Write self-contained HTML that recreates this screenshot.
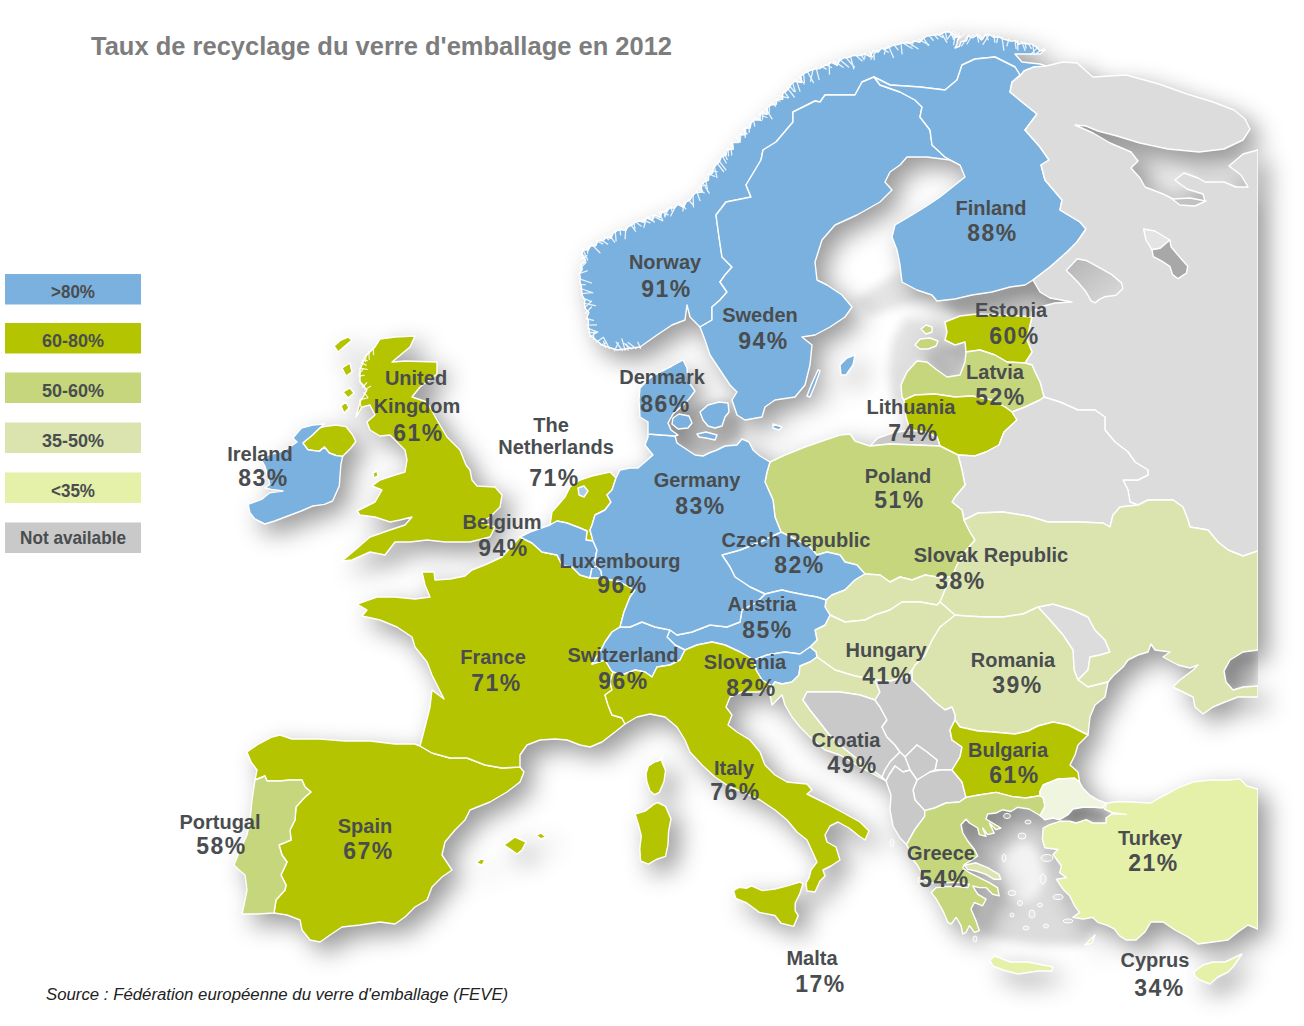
<!DOCTYPE html>
<html><head><meta charset="utf-8"><title>Taux de recyclage du verre d'emballage en 2012</title>
<style>
html,body{margin:0;padding:0;background:#fff}
body{width:1304px;height:1026px;overflow:hidden;position:relative;font-family:"Liberation Sans",sans-serif}
svg{position:absolute;left:0;top:0}
.t{font-family:"Liberation Sans",sans-serif;font-weight:bold;fill:#4a4d4f;text-anchor:middle}
.n{font-size:20px}
.p{font-size:23px;letter-spacing:1.5px}
.lg{font-size:18.5px}
.c path{stroke:#fff;stroke-width:1.4;stroke-linejoin:round}
</style></head><body>
<svg width="1304" height="1026" viewBox="0 0 1304 1026">
<defs>
<filter id="sh" x="-5%" y="-5%" width="112%" height="112%" color-interpolation-filters="sRGB">
<feGaussianBlur in="SourceAlpha" stdDeviation="12" result="a0"/>
<feOffset in="a0" dx="10" dy="10" result="a1"/>
<feFlood flood-color="#000" flood-opacity=".4" result="fa"/>
<feComposite in="fa" in2="a1" operator="in" result="sa"/>
<feMerge><feMergeNode in="sa"/><feMergeNode in="SourceGraphic"/></feMerge>
</filter>
<filter id="bl" x="-10%" y="-10%" width="120%" height="120%"><feGaussianBlur stdDeviation="5"/></filter>
<linearGradient id="lk" x1="0" y1="0" x2="1" y2="1"><stop offset="0" stop-color="#b4b4b4"/><stop offset="1" stop-color="#dcdcdc"/></linearGradient>
<clipPath id="cl"><rect x="0" y="0" width="1258" height="1026"/></clipPath>
</defs>
<rect width="1304" height="1026" fill="#fff"/>
<g filter="url(#bl)" clip-path="url(#cl)">
<path d="M937,345 960,345 966,352 965,365 960,376 947,378 935,370 925,362 920,352Z" fill="rgb(214,214,214)"/>
<path d="M940,302 990,293 1033,281 1072,302 1033,316 960,316Z" fill="rgb(214,214,214)"/>
<path d="M905,318 945,322 945,345 917,361 901,385 904,402 893,402 888,370 893,340Z" fill="rgb(226,226,226)"/>
<path d="M855,300 898,272 935,296 900,306 870,316Z" fill="rgb(228,228,228)"/>
<path d="M690,410 700,405 730,400 740,420 742,438 725,447 705,455 686,449 676,440 670,425 676,412Z" fill="rgb(212,212,212)"/>
<path d="M962,820 1000,806 1045,815 1048,835 1058,860 1070,890 1078,915 1095,925 1085,945 1040,945 1000,940 978,932 992,900 996,880 975,857 965,838Z" fill="rgb(220,220,220)"/>
<path d="M1059.7,819.7 1068,814.7 1073,809 1083,807.3 1094.5,807.3 1104.4,809 1111.9,813.9 1106,818 1106,823 1092.8,823 1086.2,819.7 1076.3,823 1069.7,821.3Z" fill="rgb(195,195,195)"/>
<path d="M1224,671 1230,660 1243,652 1258,650 1258,686 1243,687 1233,690 1226,682Z" fill="rgb(205,205,205)"/>
<path d="M1075,125 1117,136 1168,149 1224,149 1243,154 1229,166 1241,175 1248,187 1224,182 1198,178 1184,173 1175,180 1203,194 1205,201 1177,201 1145,187 1131,168 1138,161 1131,152 1093,133Z" fill="rgb(236,236,236)"/>
<ellipse cx="1022" cy="872" rx="22" ry="30" fill="#f4f4f4"/>
</g>
<g filter="url(#sh)"><g class="c" clip-path="url(#cl)">
<path d="M700,327 690,317 687,305 685,320 672,325 657,335 640,347 617,350 602,345 590,335 589.3,330.5 588.1,326.1 588.6,321.4 587,317 588.9,312.5 585.5,308.6 584.4,304.4 585,300 582.4,295.9 581.7,291.2 581.4,286.5 580,282 580.3,277.8 579.5,273.4 582.3,269.3 581,265 585.6,260.5 582,255 583,250 588.1,250.1 590.7,245.8 595.8,245.8 597.9,240.6 603.1,240.8 606,237 611.1,238.3 613.2,233.1 616.7,230.9 620.6,229.5 625.6,230.6 628.2,226.6 632,225 635.2,222.2 639.2,221 643.9,221.6 646.7,217.9 652.4,220.7 654.3,214.7 660,217.7 662,212 666.4,211.3 669.7,207.9 674.5,208.1 677.6,204.3 683.7,207.3 686.1,201.9 690,200 692.3,196 695.6,192.8 702.2,192.1 701,185.4 704,182 708.5,180.1 708.7,175.1 712.7,172.8 713.4,168.3 716,165 719.4,161.7 721.1,157.2 726.1,155.1 727,150 733.4,149 732.5,142.1 739.5,141.6 739,135 744.9,134.9 744.3,128.3 750,128 751.1,123.1 754,120 760.1,120.1 760.2,113.3 767.1,114.3 767.3,107.7 771,105 776.2,104.4 777,99.4 782.7,99.3 782.7,93.3 786.2,91.1 789,88 791.2,84.2 794.4,81.4 801.5,82.5 801,76 805.3,72.8 810,70.7 815,69 819.6,68.6 823.4,66.1 827.6,64.9 831.4,62.3 837.2,65.4 840,60 843.9,57.8 848.2,57.5 852.2,55.8 856.5,55.4 861,55.6 865,54 870.3,56.9 873.1,50.7 878,52.2 881.4,48.4 886,48.7 890,47 893.9,45 898.2,44.5 902.2,42.7 906.7,43 911.1,43.1 915,41 919.7,42.2 923,38.7 926.6,36.2 930.8,35.4 935,35 940.1,34.5 944.8,32.1 950,32 953.4,38 960,36 957.5,39.6 956.9,44.1 955,48 959.5,46.4 961.1,41.6 966.4,40.7 968,36 972.5,37.9 976.8,35.1 981.4,40 985.6,34.8 990,35 993.9,37.5 998.7,36.9 1002.7,38.8 1007,40 1010.9,41.2 1015.2,40.6 1018.6,44.3 1023.1,42.8 1027,44 1032,44.1 1036.1,46.8 1039.8,50.7 1045,50 1040,54 1015,54 1022,62 1040,64 1046,66 1034,67 1024,71 1020,76 1012,82 1020,75 1015,67 995,57 975,59 962,65 957,80 945,90 920,87 890,85 874,77 862,82 855,95 825,95 820,102 815,101 793,112 793,122 776,142 763,150 761,160 746,185 751,197 726,202 716,215 719,237 722,257 732,267 725,275 720,282 727,292 720,300 712,307 712,320 700,327Z" fill="#7bb1de"/>
<path d="M874,77 862,82 855,95 825,95 820,102 815,101 793,112 793,122 776,142 763,150 761,160 746,185 751,197 726,202 716,215 719,237 722,257 732,267 725,275 720,282 727,292 720,300 712,307 712,320 700,327 705,340 710,355 720,370 730,385 737,392 732,400 737,415 745,420 762,417 765,407 775,400 795,397 805,385 810,365 812,345 802,337 815,335 830,327 845,317 852,307 842,295 827,285 817,280 815,262 822,240 835,225 857,215 880,202 892,190 885,182 890,172 900,165 907,157 927,157 950,160 960,165 945,157 932,145 930,130 920,117 922,107 915,100 900,92 880,85 874,77Z" fill="#7bb1de"/>
<path d="M841,375 840,365 847,358 855,355 853,365 846,375Z" fill="#7bb1de"/>
<path d="M807,396 812,383 818,370 820,371 815,385 810,397Z" fill="#7bb1de"/>
<path d="M874,77 880,85 900,92 915,100 922,107 920,117 930,130 932,145 945,157 960,165 965,177 955,185 940,197 925,207 912,215 895,225 892,237 897,250 900,265 902,282 917,290 932,295 937,301 955,299 972,295 992,292 1010,287 1025,285 1033,280 1050,267 1067,252 1077,242 1086,229 1080,222 1060,210 1062,200 1045,180 1041,165 1049,160 1040,147 1025,130 1037,114 1022,102 1010,92 1012,82 1020,75 1015,67 995,57 975,59 962,65 957,80 945,90 920,87 890,85 874,77Z" fill="#7bb1de"/>
<path d="M1046,66 1063,62 1077,63 1085,70 1093,77 1126,75 1159,84 1187,94 1213,102 1234,110 1245,119 1250,129 1243,140 1224,149 1199,152 1168,149 1140,143 1117,136 1098,131 1086,126 1075,125 1093,133 1110,143 1131,152 1138,161 1131,168 1140,178 1145,187 1163,194 1177,201 1194,205 1205,201 1203,194 1187,189 1175,180 1184,173 1198,178 1205,182 1224,182 1236,187 1248,187 1241,175 1229,166 1243,154 1258,150 1258,551 1243,556 1228,550 1218,542 1208,530 1190,527 1188,520 1183,507 1173,500 1148,500 1138,505 1130,502 1128,490 1123,480 1138,480 1148,475 1148,470 1135,462 1128,452 1115,442 1105,430 1105,417 1095,410 1078,410 1060,402 1044,397 1040,382 1035,372 1032,365 1025,363 1032,352 1027,340 1030,325 1032,317 1032,312 1040,307 1055,303 1072,302 1050,298 1040,292 1033,280 1050,267 1067,252 1077,242 1086,229 1080,222 1060,210 1062,200 1045,180 1041,165 1049,160 1040,147 1025,130 1037,114 1022,102 1010,92 1012,82 1020,76 1024,71 1034,67 1046,66Z" fill="#dcdcdc"/>
<path d="M1032,317 1020,316 1000,315 977,314 960,316 945,322 947,332 945,340 955,345 965,342 966,352 980,350 995,355 1007,362 1025,363 1032,352 1027,340 1030,325 1032,317Z" fill="#b5c400"/>
<path d="M915,345 920,339 930,338 938,341 936,346 928,349 920,349Z" fill="#c6d67c"/>
<path d="M921,329 926,325 932,327 932,332 926,334Z" fill="#c6d67c"/>
<path d="M966,352 980,350 995,355 1007,362 1025,363 1032,365 1035,372 1040,382 1044,397 1040,400 1025,407 1012,412 1005,407 992,400 972,396 955,397 935,394 915,395 904,400 902,397 901,385 907,372 917,361 927,362 937,370 947,377 960,375 965,362Z" fill="#c6d67c"/>
<path d="M904,400 915,395 935,394 955,397 972,396 992,400 1005,407 1012,412 1017,420 1004,432 999,445 986,452 975,456 958,455 948,450 940,446 937,437 925,432 910,430 906,417Z" fill="#b5c400"/>
<path d="M870,446 878,438 892,433 910,430 925,432 937,437 940,446 915,445 890,444 870,446Z" fill="#c9c9c9"/>
<path d="M1012,412 1025,407 1040,400 1044,397 1060,402 1078,410 1095,410 1105,417 1105,430 1115,442 1128,452 1135,462 1148,470 1148,475 1138,480 1123,480 1128,490 1130,502 1138,505 1120,507 1113,515 1110,527 1103,523 1078,522 1048,522 1028,516 1003,512 978,513 964,520 962,510 952,502 955,497 965,485 962,470 958,455 975,456 986,452 999,445 1004,432 1017,420 1012,412Z" fill="#dcdcdc"/>
<path d="M770,462 785,455 805,447 825,440 840,435 850,434 855,441 870,446 890,444 915,445 940,446 948,450 958,455 962,470 965,485 955,497 952,502 962,510 964,520 970,532 975,540 965,552 957,565 952,577 937,577 925,575 912,580 900,577 890,582 880,575 865,574 857,565 845,562 840,555 827,552 817,555 810,547 797,540 781,532 775,517 773,500 765,482 767,472 770,462Z" fill="#c6d67c"/>
<path d="M781,532 760,542 740,550 722,555 730,567 735,577 750,587 765,594 782,590 790,592 805,595 817,597 826,600 832,595 845,590 855,580 865,574 857,565 845,562 840,555 827,552 817,555 810,547 797,540 781,532Z" fill="#7bb1de"/>
<path d="M826,600 832,595 845,590 855,580 865,574 880,575 890,582 900,577 912,580 925,575 937,577 952,577 945,590 940,602 937,605 920,602 902,602 890,610 875,615 865,620 845,622 830,615 825,607 826,600Z" fill="#dbe4ae"/>
<path d="M1038,607 1053,604 1073,610 1088,617 1095,630 1105,640 1110,652 1100,655 1090,657 1088,670 1078,680 1074,670 1073,650 1063,635 1050,620 1038,607Z" fill="#dcdcdc"/>
<path d="M964,520 978,513 1003,512 1028,516 1048,522 1078,522 1103,523 1110,527 1113,515 1120,507 1138,505 1148,500 1173,500 1183,507 1188,520 1190,527 1208,530 1218,542 1228,550 1243,556 1258,551 1258,650 1243,652 1230,660 1224,671 1226,682 1233,690 1243,687 1258,686 1258,697 1238,697 1225,702 1213,707 1203,714 1195,707 1193,697 1183,692 1173,687 1180,680 1193,670 1198,665 1190,668 1178,665 1163,657 1170,652 1155,650 1151,644 1148,652 1138,655 1128,660 1123,667 1113,676 1108,682 1088,687 1078,680 1088,670 1090,657 1100,655 1110,652 1105,640 1095,630 1088,617 1073,610 1053,604 1038,607 1023,614 1003,617 985,617 965,616 955,615 940,602 945,590 952,577 957,565 965,552 975,540 970,532 964,520Z" fill="#dbe4ae"/>
<path d="M955,615 965,616 985,617 1003,617 1023,614 1038,607 1050,620 1063,635 1073,650 1074,670 1078,680 1088,687 1108,682 1105,697 1095,705 1090,717 1088,735 1078,730 1068,725 1053,722 1038,726 1028,731 1015,734 993,732 978,731 960,727 955,720 955,715 952,707 945,710 935,702 925,692 912,680 912,670 915,665 925,655 932,640 940,627 955,615Z" fill="#dbe4ae"/>
<path d="M830,615 845,622 865,620 875,615 890,610 902,602 920,602 937,605 940,602 955,615 940,627 932,640 925,655 915,665 912,670 907,677 890,681 875,680 855,676 835,670 817,657 816,652 810,647 817,640 815,630 825,625 830,615Z" fill="#dbe4ae"/>
<path d="M670,630 677,635 692,632 710,625 727,627 740,622 742,610 757,602 765,594 782,590 790,592 805,595 817,597 826,600 825,607 830,615 825,625 815,630 817,640 810,647 800,654 785,652 767,655 754,660 740,652 725,645 712,642 697,645 685,650 675,645 667,637 670,630Z" fill="#7bb1de"/>
<path d="M754,660 767,655 785,652 800,654 810,647 816,652 817,657 810,662 800,666 799,675 792,682 782,684 775,682 772,686 762,680 756,670 754,660Z" fill="#7bb1de"/>
<path d="M817,657 835,670 855,676 875,680 880,692 875,700 860,695 840,692 820,692 807,692 803,700 810,710 818,720 828,733 840,745 855,757 870,768 882,777 886,781 875,775 860,767 840,755 825,750 810,737 800,727 792,717 785,705 782,695 777,700 772,705 770,695 772,686 775,682 782,684 792,682 799,675 800,666 810,662 817,657Z" fill="#dbe4ae"/>
<path d="M882,777 870,768 855,757 840,745 828,733 818,720 810,710 803,700 807,692 820,692 840,692 860,695 875,700 880,707 887,720 882,727 887,737 895,745 900,752 890,762 885,770 882,777Z" fill="#c9c9c9"/>
<path d="M875,680 890,681 907,677 912,670 912,680 925,692 935,702 945,710 952,707 955,715 955,720 950,730 952,740 962,747 960,757 952,770 940,770 935,770 937,760 927,752 917,745 905,757 900,752 895,745 887,737 882,727 887,720 880,707 875,700 880,692 875,680Z" fill="#c9c9c9"/>
<path d="M905,757 917,745 927,752 937,760 935,770 930,772 917,780 910,770Z" fill="#c9c9c9"/>
<path d="M917,780 930,772 940,770 952,770 962,782 966,797.4 959.5,802 946,803 934.6,808 924.7,810.6 915,800 913,790Z" fill="#c9c9c9"/>
<path d="M882,777 885,770 890,762 900,752 905,757 910,770 903,772 895,766 889,775 886,781Z" fill="#c9c9c9"/>
<path d="M886,781 889,775 895,766 903,772 910,770 917,780 913,790 915,800 924.7,810.6 924.7,816.4 914.8,829.7 906.5,844.6 900,838 893,826 890,810 891,795Z" fill="#c9c9c9"/>
<path d="M955,720 960,727 978,731 993,732 1015,734 1028,731 1038,726 1053,722 1068,725 1078,730 1088,735 1078,745 1075,755 1070,765 1078,772 1079.6,782.4 1074.6,778.3 1058,779 1043.2,785 1040,791.5 1040,795.7 1025.7,798 1012.5,796.6 996,792.4 979,795 966,797.4 962,782 952,770 960,757 962,747 952,740 950,730 955,720Z" fill="#b5c400"/>
<path d="M1040,795.7 1040,791.5 1043.2,785 1058,779 1074.6,778.3 1079.6,782.4 1083,788.2 1089.5,794.8 1097.8,799.8 1106,803 1102.8,808 1094.5,807.3 1083,807.3 1073,809 1068,814.7 1059.7,819.7 1053,818 1044.8,819.7 1039.9,815.5 1044.8,806.4 1043.2,798 1040,795.7Z" fill="#f0f5e0"/>
<path d="M1107,803 1119.3,801.5 1135.9,802.3 1150.8,803 1159,798 1169,793 1180,787 1193,782 1210,780 1228,780 1240,779 1247,786 1258,789 1258,929 1248,925 1238,932 1228,940 1213,942 1198,944 1188,937 1175,930 1163,922 1151,922 1145,932 1136,940 1126,940 1119.3,935.6 1114.4,929 1107.8,925.7 1097.8,922.3 1092.8,917.4 1083,919 1073,917.4 1079.6,912.4 1074.6,905.8 1069.7,895.8 1063,889.2 1056.4,879.3 1066.4,877.6 1059.7,872.6 1061.4,866 1053,854.4 1058,849.5 1044.8,847.8 1042.4,839.5 1043.2,828 1049.8,824.6 1059.7,821.3 1069.7,821.3 1076.3,823 1086.2,819.7 1092.8,823 1106,823 1106,818 1111.9,813.9 1126,814.4 1111.9,812.5 1104.4,809Z" fill="#e5f0a8"/>
<path d="M906.5,844.6 914.8,829.7 924.7,816.4 924.7,810.6 934.6,808 946,803 959.5,802 966,797.4 979,795 996,792.4 1012.5,796.6 1025.7,798 1040,795.7 1043.2,798 1044.8,806.4 1039.9,815.5 1029,809 1017.4,807.3 1010.8,811.5 1002.5,809.8 996,813 987.6,814 986,819 1000.9,828 996,829.7 989.3,823 994.2,833 987.6,834.6 982.6,828 986,836.3 979.3,834.6 977.7,828 969.4,823 966,819 961,824.7 962.8,833 967.7,841 974.4,849.5 977.7,856 972.7,859.5 964.4,864.4 962.8,867.7 969.4,872.7 979.3,877.7 989.3,882.6 997.5,887.6 999.2,895.9 992.6,894.2 986,887.6 979.3,887.6 972.7,886 977.7,894.2 986,899.2 982.6,905.8 974.4,902.5 971,909 976,920.7 979.3,930.6 974.4,932.3 969.4,925.7 966,932.3 962.8,934 961,925.7 956.2,917.4 951.2,924 947.9,922.4 942.9,910.8 936.3,899.2 931.3,892.6 936.3,887.6 946.2,886.5 957.8,886.5 967.7,887.6 969.4,884.3 959.5,882.6 949.5,882.6 938,883.5 929.7,882.6 924.7,879.3 921.4,872.7 918,866 913,859.5 909.8,851Z" fill="#c6d67c"/>
<path d="M964.4,865.3 976,862.8 987.6,867.7 999,874.4 1000.9,879.3 994.2,879.3 986,874.4 976,871 967.7,869.4Z" fill="#dbe4ae"/>
<path d="M990,960 995,956 1010,962 1028,962 1043,965 1053,967 1052,971 1038,971 1018,974 1003,970 993,966Z" fill="#e5f0a8"/>
<path d="M1085,945 1095,935 1092,943Z" fill="#e5f0a8"/>
<path d="M1194,972 1203,965 1213,962 1225,962 1242,954 1233,967 1228,972 1218,977 1210,984 1200,980 1195,976Z" fill="#e5f0a8"/>
<path d="M255,780 257,770 251,762 247,752 257,745 272,737 280,735 292,739 320,739 345,741 370,741 395,744 415,744 420,746 432,753 450,758 467,758 485,765 502,768 520,767 524,772 520,782 507,792 490,802 470,810 465,820 455,830 445,842 442,855 452,870 442,877 432,887 427,900 415,907 405,917 395,924 380,922 360,925 342,927 330,935 320,942 310,940 302,930 300,920 287,915 274,913 276,900 285,890 286,885 281,875 287,862 282,855 279,845 291,840 290,830 295,820 296,807 305,797 311,792 305,787 302,780 290,780 280,781 267,781 265,776 255,780Z" fill="#b5c400"/>
<path d="M255,780 265,776 267,781 280,781 290,780 302,780 305,787 311,792 305,797 296,807 295,820 290,830 291,840 279,845 282,855 287,862 281,875 286,885 285,890 276,900 274,913 257,914 242,914 244,905 247,890 245,875 239,870 234,865 240,850 247,835 250,820 252,800Z" fill="#c6d67c"/>
<path d="M504,845 515,837 526,842 522,850 517,854 510,849Z" fill="#b5c400"/>
<path d="M536,835 541,833 546,837 541,839Z" fill="#b5c400"/>
<path d="M476,863 481,859 485,860 482,865Z" fill="#b5c400"/>
<path d="M520,537 502,557 487,564 472,570 465,576 450,579 435,580 434,572 422,572 425,585 430,597 415,599 395,597 377,597 357,604 367,610 362,616 380,620 397,627 412,637 415,647 427,662 432,675 437,685 444,699 432,690 430,707 425,727 420,746 432,753 450,758 467,758 485,765 502,768 520,767 520,755 527,745 540,740 555,739 567,740 580,745 590,747 602,742 615,732 625,724 622,718 612,715 608,705 605,695 612,690 610,682 613,672 611,670 605,660 592,664 600,652 605,642 612,632 620,627 624,612 630,597 635,590 620,582 602,578 590,578 580,575 572,567 562,565 557,555 542,552 532,543 520,537Z" fill="#b5c400"/>
<path d="M662.4,755 661.6,761 665.5,770.5 664,781.5 659.3,792.4 654.6,794.7 649.9,790.8 646.8,781.5 646,773.7 648.4,765.9 654.6,762 660,760.4Z" fill="#b5c400"/>
<path d="M620,627 630,627 642,622 655,627 670,630 667,637 675,645 685,650 680,660 670,665 657,667 652,677 645,672 635,670 622,675 613,672 611,670 605,660 592,664 600,652 605,642 612,632 620,627Z" fill="#7bb1de"/>
<path d="M625,724 622,718 612,715 608,705 605,695 612,690 610,682 613,672 622,675 635,670 645,672 652,677 657,667 670,665 680,660 685,650 697,645 712,642 725,645 740,652 754,660 756,670 762,680 772,686 770,686 760,692 742,692 730,697 726,707 732,715 728,725 737,732 750,740 760,752 765,765 775,775 787,782 807,784 812,790 807,794 825,803 840,811 860,822 869,831 865,840 859,836 849,828 838,822 830,826 825,835 827,842 836,847 840,860 831,866 823,870 825,876 820,881 815,892 807,891 806,883 809,878 811,870 817,862 812,851 807,840 797,832 787,820 775,810 760,800 745,793 730,787 715,777 702,765 690,752 685,740 677,727 665,717 650,714 637,717Z" fill="#b5c400"/>
<path d="M733.5,890.6 739,887.4 746.8,888.2 751.5,885.9 762.4,890.6 774.9,889 787.4,885.9 799.8,882 803,883.5 799.8,893.7 795.2,903 795.2,910.8 798.3,915.5 793.6,926.4 781.1,923.3 774.9,915.5 759.3,912.4 746.8,903 735.9,898.4Z" fill="#b5c400"/>
<path d="M657.7,802.5 665.5,806.4 671,818.9 668.6,831.4 667.9,845.4 665.5,856.4 656.2,859.5 648.4,864.2 640.6,861 639.8,848.6 641.3,836 638.2,823.6 635.1,814.2 645.2,811.1 653,804.9Z" fill="#b5c400"/>
<path d="M550,525 552,512 565,497 570,487 580,480 592,476 610,472 616,478 612,490 607,495 611,502 605,510 595,515 592,525 590,530 593,541 586,540 587,531 580,528 567,523 557,521 550,525Z" fill="#b5c400"/>
<path d="M578,488 584,486 588,491 584,497 579,495Z" fill="#a9cbe8"/>
<path d="M520,537 530,532 550,525 557,521 567,523 580,528 587,531 586,540 593,541 597,550 595,560 597,566 592,568 590,578 580,575 572,567 562,565 557,555 542,552 532,543 520,537Z" fill="#7bb1de"/>
<path d="M597,566 592,568 590,578 602,578 601,571 597,566Z" fill="#7bb1de"/>
<path d="M616,478 620,470 630,468 638,468 645,462 653,455 645,445 648,437 648,434 675,436 677,443 686,449 695,455 703,456 709,453 717,450 725,446 737,445 742,439 749,442 753,450 760,456 770,462 767,472 765,482 773,500 775,517 781,532 760,542 740,550 722,555 730,567 735,577 750,587 765,594 757,602 742,610 740,622 727,627 710,625 692,632 677,635 670,630 655,627 642,622 630,627 620,627 624,612 630,597 635,590 620,582 602,578 601,571 597,566 595,560 597,550 593,541 590,530 592,525 595,515 605,510 611,502 607,495 612,490 616,478Z" fill="#7bb1de"/>
<path d="M648,434 648,422 640,417 639,400 640,388 650,378 662,371 672,366 683,360 687,368 688,381 695,391 689,399 682,406 673,414 668,423 671,430 678,435 675,436Z" fill="#7bb1de"/>
<path d="M673,418 679,414 689,416 692,423 688,428 678,429 672,424Z" fill="#7bb1de"/>
<path d="M700,412 708,405 719,402 728,403 729,412 725,417 722,426 715,428 708,426 703,420Z" fill="#7bb1de"/>
<path d="M697,434 706,432 717,435 715,440 706,438 699,437Z" fill="#7bb1de"/>
<path d="M773,424 782,427 779,430 773,428Z" fill="#7bb1de"/>
<path d="M380,339 395,337 415,336 410,347 392,362 405,361 437,362 437,374 420,387 412,397 427,402 437,420 447,437 460,450 466,465 470,470 472,480 477,486 495,487 502,495 500,507 490,517 482,522 495,527 490,537 470,542 445,542 427,540 410,542 395,542 385,555 370,552 352,560 342,561 355,550 370,537 390,530 405,525 412,517 400,520 390,522 375,517 360,515 357,511 375,502 382,490 372,486 380,480 395,475 405,472 407,460 405,450 395,440 390,435 380,436 370,430 367,422 375,415 370,405 362,407 356,417 360,402 367,390 360,382 360,370 365,357 375,347Z" fill="#b5c400"/>
<path d="M319.4,428.2 324.4,426.6 336,425 345.9,426.6 352.5,434.8 355.8,441.5 350.9,448 344.2,454.7 342.6,456.4 336,455.5 329.3,453 324.4,447 319.4,451.4 307.8,449.7 302.8,443 312.8,434.8 319.4,428.2Z" fill="#b5c400"/>
<path d="M292.9,438 301.2,428.2 312.8,425 324.4,424 319.4,428.2 312.8,434.8 302.8,443 307.8,449.7 319.4,451.4 324.4,447 329.3,453 336,455.5 342.6,456.4 340.9,464.6 340,476 339.3,486 332.6,501 324.4,504.4 312.8,506 301.2,511 287.9,516 274.7,521 264.8,524 254.8,519 249.9,512.6 248.2,504.4 261.5,499.4 269.7,492.8 283,491 271.4,489.5 264.8,487.8 269.7,484.5 268,476 264.8,466 261.5,459.7 268,455 279.7,452 290,447 297,442Z" fill="#7bb1de"/>
<path d="M342,368 350,363 352,372 346,376Z" fill="#b5c400"/>
<path d="M343,392 350,388 354,393 348,398Z" fill="#b5c400"/>
<path d="M341,406 346,402 349,408 344,413Z" fill="#b5c400"/>
<path d="M373,473 377,471 378,476 374,478Z" fill="#b5c400"/>
<path d="M334,346 341,340 348,337 352,340 345,346 338,352Z" fill="#b5c400"/>
<path d="M1066.2,270.4 1077.3,258.7 1087,260.8 1099.4,267.7 1111.8,274.6 1121.5,282.9 1122.9,288.4 1116,295.3 1104.9,296.7 1099.4,299.4 1095.2,302.9 1091.1,300.8 1085.6,291.2 1077.3,281.5 1070.4,274.6Z" fill="url(#lk)"/>
<path d="M1143.6,229 1155,231 1169.8,240 1160.2,248.3 1151.9,249.7 1146,240Z" fill="#e4e4e4"/>
<path d="M1151.9,249.7 1160.2,248.3 1169.8,240 1171.2,247 1178.1,255.2 1187.8,266.3 1186.4,273.2 1178.1,278.7 1172.6,274.6 1169.8,266.3 1161.5,260.8 1153.3,256.6Z" fill="#a8a8a8"/>
<path d="M1172,199 1190,198 1206,201 1195,206 1180,205Z" fill="#c2c2c2"/>
<path d="M640.6,348.4L637.8,342.3 M635.9,348.6L628.2,342.5 M631.8,349.1L624.1,343.4 M628.1,350.1L626.6,344.2 M625.1,350.4L621.9,338.8 M622.4,350.6L616.2,342.1 M614.5,350.7L618.3,342.9 M609.5,348.6L603.7,337.7 M605.6,347.5L603.6,341.4 M600.1,345.0L606.7,342.9 M596.4,342.2L603.3,337.3 M594.0,339.7L593.4,333.7 M589.8,336.7L597.4,332.1 M588.1,332.5L597.2,332.4 M587.5,328.1L597.9,332.1 M586.8,325.1L596.5,324.8 M585.9,318.5L593.4,320.4 M585.4,313.3L591.5,307.0 M584.7,307.5L591.6,301.2 M584.0,303.4L595.4,305.6 M583.3,298.2L590.6,301.3 M581.7,293.6L591.8,292.6 M580.5,288.5L592.8,292.9 M579.2,284.6L585.2,284.7 M578.7,278.7L591.5,283.0 M579.1,273.6L587.2,270.9 M579.8,268.8L586.2,262.2 M579.8,265.2L584.9,262.0 M580.6,259.4L587.0,255.6 M581.4,253.3L585.7,257.7 M582.5,248.6L587.7,260.0 M588.5,245.5L587.5,253.1 M591.1,243.7L599.9,252.8 M596.5,241.0L602.8,243.8 M599.8,239.0L607.7,244.1 M604.3,236.4L608.7,239.7 M608.5,234.2L614.7,242.1 M615.3,231.2L616.1,240.8 M620.0,229.0L620.6,234.9 M626.0,226.3L625.1,238.8 M630.4,224.1L635.5,231.2 M633.9,222.6L634.9,228.5 M635.6,222.0L641.1,226.1 M639.2,220.8L644.3,222.7 M642.3,219.3L649.9,222.9 M646.6,217.4L643.9,227.4 M648.1,216.5L654.3,222.0 M651.7,215.2L662.6,220.9 M658.6,211.9L662.8,220.2 M660.7,211.3L668.1,214.9 M665.8,209.0L664.5,215.7 M668.7,208.0L664.8,217.0 M670.6,206.7L672.4,212.1 M676.2,204.9L670.7,216.0 M679.5,203.0L685.8,208.7 M683.8,201.2L683.0,210.9 M688.1,199.3L692.9,204.8 M693.0,194.5L693.5,206.9 M696.2,189.9L700.0,200.7 M697.8,187.5L704.2,192.9 M699.2,186.5L706.8,185.1 M702.2,182.0L709.2,193.2 M705.4,178.2L707.7,191.4 M708.0,173.8L714.8,176.4 M710.0,171.2L717.1,171.7 M714.2,165.6L717.0,177.5 M716.3,162.1L723.6,171.5 M718.1,159.6L725.9,169.8 M721.8,154.8L726.2,163.0 M723.9,152.0L727.2,159.4 M728.0,147.1L728.5,155.8 M730.7,143.7L731.7,155.0 M731.4,142.6L738.1,142.6 M736.4,136.2L738.7,142.5 M741.0,131.6L740.2,142.3 M742.9,129.0L747.1,134.0 M745.9,126.7L745.2,137.4 M749.2,123.3L749.2,132.3 M753.3,118.9L754.7,126.0 M755.0,117.2L761.6,120.6 M758.8,114.0L766.9,117.5 M762.6,110.9L762.5,119.2 M765.2,108.1L772.1,118.8 M769.4,105.0L769.1,114.5 M771.9,102.1L775.6,106.4 M774.7,99.8L780.1,101.1 M779.0,95.7L788.1,97.8 M783.6,91.0L788.6,97.4 M787.1,87.7L794.3,97.0 M789.4,85.5L794.0,91.4 M792.6,82.6L795.3,91.7 M796.0,79.1L800.0,91.2 M798.9,76.1L804.1,84.0 M803.4,73.2L804.5,82.3 M807.2,71.2L813.5,82.6 M813.2,68.6L810.5,81.3 M816.0,67.1L819.1,79.7 M820.8,65.6L826.2,69.1 M824.9,64.3L831.6,67.5 M829.1,62.4L829.5,74.2 M833.8,60.9L843.1,67.3 M839.0,59.0L848.6,67.0 M845.6,57.3L854.4,67.0 M850.4,56.0L853.8,68.9 M855.5,55.0L862.2,60.9 M860.6,53.6L864.1,59.7 M865.4,52.5L864.7,58.1 M869.4,51.2L871.5,56.5 M873.8,50.0L874.3,59.6 M877.6,49.5L870.9,59.2 M881.8,48.1L888.2,52.3 M886.2,46.7L884.4,54.2 M888.4,45.9L893.5,57.6 M893.9,44.7L898.0,49.9 M900.9,42.9L902.1,53.9 M902.7,42.9L912.2,48.5 M907.1,41.8L918.0,48.8 M913.9,39.9L912.0,45.8 M918.1,39.0L928.9,44.9 M922.9,37.1L928.3,45.4 M928.9,35.4L933.2,40.3 M933.5,34.1L937.9,38.7 M936.5,33.6L942.6,37.4 M940.9,32.4L946.9,42.3 M945.2,31.4L946.6,38.2 M948.2,31.4L954.8,35.0 M953.1,31.3L947.2,39.2 M955.9,31.8L953.6,44.6 M959.7,32.9L953.3,39.2 M964.3,33.9L958.0,39.8 M968.7,34.7L961.6,46.0 M972.8,34.5L966.9,44.0 M976.9,34.1L978.7,42.2 M979.2,34.3L983.1,38.9 M985.2,33.9L988.3,39.9 M989.7,33.8L983.0,44.3 M994.0,34.7L994.8,42.1 M998.2,35.8L996.7,42.5 M1002.0,37.1L1003.8,50.2 M1009.0,38.9L1006.9,46.0 M1014.9,40.1L1016.1,48.4 M1017.7,40.6L1017.8,49.9 M1021.9,41.7L1025.1,50.6 M1024.7,42.1L1026.1,48.2 M1028.5,43.4L1031.2,48.4 M1032.7,44.5L1034.3,54.5 M1038.6,46.4L1031.1,54.1 M1044.1,48.5L1036.8,53.1 M359.7,400.5L361.5,408.6 M360.2,399.5L367.8,397.8 M363.8,392.6L367.7,396.9 M364.8,389.7L370.7,386.3 M362.6,387.3L366.7,382.7 M359.1,380.1L364.3,386.5 M358.5,376.0L364.1,375.4 M359.0,373.8L363.2,369.0 M359.2,368.1L367.1,369.3 M361.2,362.6L366.1,365.1 M362.2,360.4L367.2,360.6 M366.3,354.4L365.5,361.5 M368.7,351.7L369.3,359.3 M373.2,347.2L373.6,354.7" style="fill:none;stroke:#fff;stroke-width:1.3;stroke-linecap:round;opacity:.85"/>
</g></g><g clip-path="url(#cl)">
<ellipse cx="1007" cy="816" rx="3.5" ry="2.5" fill="rgba(255,255,255,.2)" stroke="#fff" stroke-width="1"/>
<ellipse cx="1028" cy="822" rx="3" ry="2" fill="rgba(255,255,255,.2)" stroke="#fff" stroke-width="1"/>
<ellipse cx="1022" cy="836" rx="4" ry="3" fill="rgba(255,255,255,.2)" stroke="#fff" stroke-width="1"/>
<ellipse cx="1047" cy="858" rx="6" ry="3.5" fill="rgba(255,255,255,.2)" stroke="#fff" stroke-width="1"/>
<ellipse cx="1043" cy="879" rx="3" ry="5" fill="rgba(255,255,255,.2)" stroke="#fff" stroke-width="1"/>
<ellipse cx="1058" cy="897" rx="5" ry="2.5" fill="rgba(255,255,255,.2)" stroke="#fff" stroke-width="1"/>
<ellipse cx="1004" cy="858" rx="2" ry="4" fill="rgba(255,255,255,.2)" stroke="#fff" stroke-width="1"/>
<ellipse cx="1012" cy="893" rx="4" ry="2.5" fill="rgba(255,255,255,.2)" stroke="#fff" stroke-width="1"/>
<ellipse cx="1020" cy="903" rx="2.5" ry="2.5" fill="rgba(255,255,255,.2)" stroke="#fff" stroke-width="1"/>
<ellipse cx="1032" cy="914" rx="3" ry="4" fill="rgba(255,255,255,.2)" stroke="#fff" stroke-width="1"/>
<ellipse cx="1040" cy="905" rx="2.5" ry="2" fill="rgba(255,255,255,.2)" stroke="#fff" stroke-width="1"/>
<ellipse cx="1068" cy="921" rx="5" ry="2" fill="rgba(255,255,255,.2)" stroke="#fff" stroke-width="1"/>
<ellipse cx="1026" cy="928" rx="3" ry="2" fill="rgba(255,255,255,.2)" stroke="#fff" stroke-width="1"/>
<ellipse cx="1046" cy="926" rx="2.5" ry="2" fill="rgba(255,255,255,.2)" stroke="#fff" stroke-width="1"/>
<ellipse cx="1012" cy="915" rx="2" ry="2" fill="rgba(255,255,255,.2)" stroke="#fff" stroke-width="1"/>
<ellipse cx="892" cy="843" rx="2" ry="4" fill="rgba(255,255,255,.2)" stroke="#fff" stroke-width="1"/>
<ellipse cx="975" cy="939" rx="2" ry="3" fill="rgba(255,255,255,.2)" stroke="#fff" stroke-width="1"/>
<ellipse cx="920" cy="880" rx="2" ry="3" fill="rgba(255,255,255,.2)" stroke="#fff" stroke-width="1"/>
</g>
<rect x="5" y="274" width="136" height="30.5" fill="#7bb1de"/>
<text class="t lg" x="73" y="298" textLength="44" lengthAdjust="spacingAndGlyphs">&gt;80%</text>
<rect x="5" y="323" width="136" height="30.5" fill="#b5c400"/>
<text class="t lg" x="73" y="347" textLength="62" lengthAdjust="spacingAndGlyphs">60-80%</text>
<rect x="5" y="372.5" width="136" height="30.5" fill="#c6d67c"/>
<text class="t lg" x="73" y="396.5" textLength="62" lengthAdjust="spacingAndGlyphs">50-60%</text>
<rect x="5" y="422.5" width="136" height="30.5" fill="#dbe4ae"/>
<text class="t lg" x="73" y="446.5" textLength="62" lengthAdjust="spacingAndGlyphs">35-50%</text>
<rect x="5" y="472.5" width="136" height="30.5" fill="#e5f0a8"/>
<text class="t lg" x="73" y="496.5" textLength="44" lengthAdjust="spacingAndGlyphs">&lt;35%</text>
<rect x="5" y="522.5" width="136" height="30.5" fill="#c9c9c9"/>
<text class="t lg" x="73" y="544.0" textLength="106" lengthAdjust="spacingAndGlyphs">Not available</text>
<g>
<text class="t n" x="416" y="385">United</text><text class="t n" x="551" y="432">The</text>
<text class="t n" x="991" y="215">Finland</text><text class="t p" x="992.5" y="241">88%</text>
<text class="t n" x="665" y="269">Norway</text><text class="t p" x="666.5" y="297">91%</text>
<text class="t n" x="760" y="322">Sweden</text><text class="t p" x="763.5" y="349">94%</text>
<text class="t n" x="1011" y="317">Estonia</text><text class="t p" x="1014.5" y="344">60%</text>
<text class="t n" x="995" y="379">Latvia</text><text class="t p" x="1000.5" y="405">52%</text>
<text class="t n" x="911" y="414">Lithuania</text><text class="t p" x="913.5" y="441">74%</text>
<text class="t n" x="662" y="384">Denmark</text><text class="t p" x="665.5" y="412">86%</text>
<text class="t n" x="417" y="413">Kingdom</text><text class="t p" x="418.5" y="441">61%</text>
<text class="t n" x="260" y="461">Ireland</text><text class="t p" x="263.5" y="486">83%</text>
<text class="t n" x="556" y="454">Netherlands</text><text class="t p" x="554.5" y="486">71%</text>
<text class="t n" x="697" y="487">Germany</text><text class="t p" x="700.5" y="514">83%</text>
<text class="t n" x="898" y="483">Poland</text><text class="t p" x="899.5" y="508">51%</text>
<text class="t n" x="502" y="529">Belgium</text><text class="t p" x="503.5" y="556">94%</text>
<text class="t n" x="620" y="568">Luxembourg</text><text class="t p" x="622.5" y="593">96%</text>
<text class="t n" x="796" y="547">Czech Republic</text><text class="t p" x="799.5" y="573">82%</text>
<text class="t n" x="991" y="562">Slovak Republic</text><text class="t p" x="960.5" y="589">38%</text>
<text class="t n" x="762" y="611">Austria</text><text class="t p" x="767.5" y="638">85%</text>
<text class="t n" x="493" y="664">France</text><text class="t p" x="496.5" y="691">71%</text>
<text class="t n" x="623" y="662">Switzerland</text><text class="t p" x="623.5" y="689">96%</text>
<text class="t n" x="745" y="669">Slovenia</text><text class="t p" x="751.5" y="696">82%</text>
<text class="t n" x="886" y="657">Hungary</text><text class="t p" x="887.5" y="684">41%</text>
<text class="t n" x="1013" y="667">Romania</text><text class="t p" x="1017.5" y="693">39%</text>
<text class="t n" x="846" y="747">Croatia</text><text class="t p" x="852.5" y="773">49%</text>
<text class="t n" x="1008" y="757">Bulgaria</text><text class="t p" x="1014.5" y="783">61%</text>
<text class="t n" x="734" y="775">Italy</text><text class="t p" x="735.5" y="800">76%</text>
<text class="t n" x="220" y="829">Portugal</text><text class="t p" x="221.5" y="854">58%</text>
<text class="t n" x="365" y="833">Spain</text><text class="t p" x="368.5" y="859">67%</text>
<text class="t n" x="941" y="860">Greece</text><text class="t p" x="944.5" y="887">54%</text>
<text class="t n" x="1150" y="845">Turkey</text><text class="t p" x="1153.5" y="871">21%</text>
<text class="t n" x="812" y="965">Malta</text><text class="t p" x="820.5" y="992">17%</text>
<text class="t n" x="1155" y="967">Cyprus</text><text class="t p" x="1159.5" y="996">34%</text>
</g>
<text x="91" y="55" style="font-family:'Liberation Sans',sans-serif;font-weight:bold;font-size:25.5px;fill:#7d7d7d">Taux de recyclage du verre d'emballage en 2012</text>
<text x="46" y="1000" style="font-family:'Liberation Sans',sans-serif;font-style:italic;font-size:16.8px;fill:#222">Source : Fédération européenne du verre d'emballage (FEVE)</text>
</svg></body></html>
